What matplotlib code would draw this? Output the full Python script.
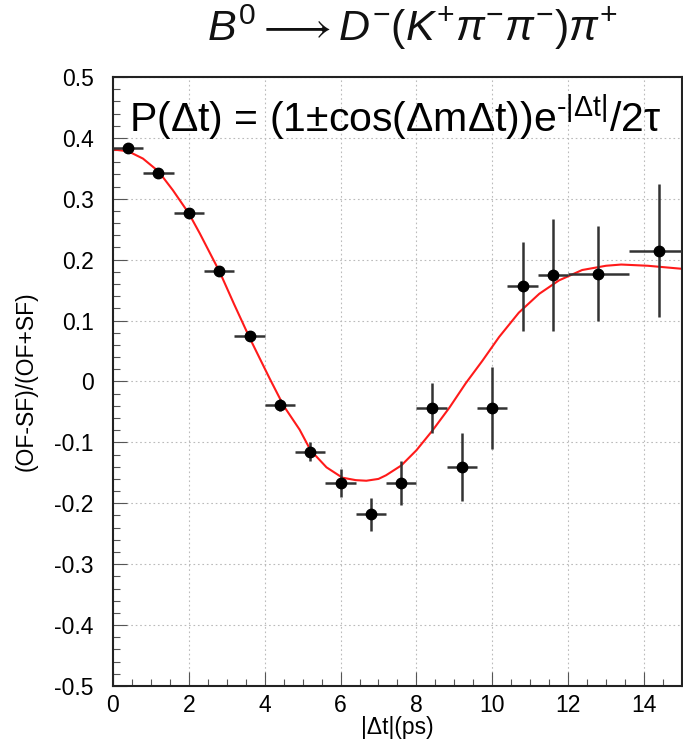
import matplotlib
matplotlib.use("Agg")
import matplotlib.pyplot as plt
from matplotlib.ticker import MultipleLocator

plt.rcParams['font.family'] = ['Liberation Sans', 'DejaVu Sans']
plt.rcParams['mathtext.fontset'] = 'custom'
plt.rcParams['mathtext.rm'] = 'Liberation Sans'
plt.rcParams['mathtext.it'] = 'Liberation Sans:italic'
plt.rcParams['mathtext.bf'] = 'Liberation Sans:bold'

# data points
dt = [0.4, 1.2, 2.0, 2.8, 3.6, 4.4, 5.2, 6.0, 6.8, 7.6, 8.4, 9.2, 10.0, 10.8, 11.6, 12.8, 14.4]
dt_err = [0.4, 0.4, 0.4, 0.4, 0.4, 0.4, 0.4, 0.4, 0.4, 0.4, 0.4, 0.4, 0.4, 0.4, 0.4, 0.8, 0.8]
asym = [0.383, 0.342, 0.276, 0.181, 0.074, -0.039, -0.115, -0.166, -0.218, -0.167,
        -0.044, -0.140, -0.044, 0.156, 0.175, 0.177, 0.215]
asym_err = [0.005, 0.005, 0.006, 0.007, 0.008, 0.010, 0.015, 0.023, 0.027, 0.036,
            0.041, 0.056, 0.067, 0.073, 0.092, 0.078, 0.109]

# fit curve
fit_t = [0.0, 0.4, 0.79, 1.2, 1.58, 2.0, 2.29, 2.82, 3.2, 3.6, 4.13, 4.5, 4.92, 5.21, 5.63,
         6.05, 6.4, 6.68, 7.0, 7.2, 7.6, 8.0, 8.43, 8.87, 9.3, 9.74, 10.18, 10.7, 11.24,
         11.76, 12.37, 13.0, 13.4, 14.1, 15.0]
fit_a = [0.381, 0.378, 0.366, 0.345, 0.314, 0.276, 0.243, 0.179, 0.126, 0.072, 0.005, -0.040,
         -0.079, -0.113, -0.141, -0.158, -0.162, -0.163, -0.160, -0.154, -0.138, -0.113,
         -0.080, -0.043, -0.003, 0.034, 0.073, 0.113, 0.144, 0.166, 0.183, 0.190, 0.192,
         0.190, 0.185]

xticks = [0, 2, 4, 6, 8, 10, 12, 14]
yticks = [-0.5, -0.4, -0.3, -0.2, -0.1, 0, 0.1, 0.2, 0.3, 0.4, 0.5]
ytick_labels = ['-0.5', '-0.4', '-0.3', '-0.2', '-0.1', '0', '0.1', '0.2', '0.3', '0.4', '0.5']

fig = plt.figure(figsize=(6.83, 7.40), dpi=100)
ax = fig.add_axes([0.1654, 0.073, 0.833, 0.823])

ax.plot(fit_t, fit_a, color='#ff1a1a', lw=1.5, zorder=2)
ax.errorbar(dt, asym, xerr=dt_err, yerr=asym_err, fmt='o', color='black', ms=7.5,
            ecolor='#333333', elinewidth=1.8, capsize=0, zorder=3)

ax.set_xlim(0, 15)
ax.set_ylim(-0.5, 0.5)
ax.set_xticks(xticks)
ax.set_yticks(yticks)
ax.set_yticklabels(ytick_labels)
ax.xaxis.set_minor_locator(MultipleLocator(0.5))
ax.yaxis.set_minor_locator(MultipleLocator(0.02))
ax.tick_params(axis='both', which='major', direction='in', length=10, width=0.8,
               labelsize=16.5, top=False, right=False, color='#555555')
ax.tick_params(axis='both', which='minor', direction='in', length=5, width=0.8,
               top=False, right=False, color='#555555')
ax.tick_params(axis='x', pad=6)
ax.tick_params(axis='y', pad=14)
ax.grid(True, which='major', linestyle=(0, (1.5, 2.5)), color='#bbbbbb', lw=0.8)
for s in ax.spines.values():
    s.set_linewidth(1.5)
    s.set_color('#222222')

ax.set_xlabel('|Δt|(ps)', fontsize=16.5, labelpad=-1)
ax.set_ylabel('(OF-SF)/(OF+SF)', fontsize=16.5, labelpad=12)

fig.text(0.603, 0.963, r'$B^0 \longrightarrow D^{-}(K^{+}\pi^{-}\pi^{-})\pi^{+}$',
         ha='center', va='center', fontsize=31, color='#111111')

ax.text(0.028, 0.975, r'P(Δt) = (1±cos(ΔmΔt))e$^{\text{-|Δt|}}$/2τ',
        transform=ax.transAxes, ha='left', va='top', fontsize=29.5, color='black', zorder=4)

fig.savefig('out.png', dpi=100)
